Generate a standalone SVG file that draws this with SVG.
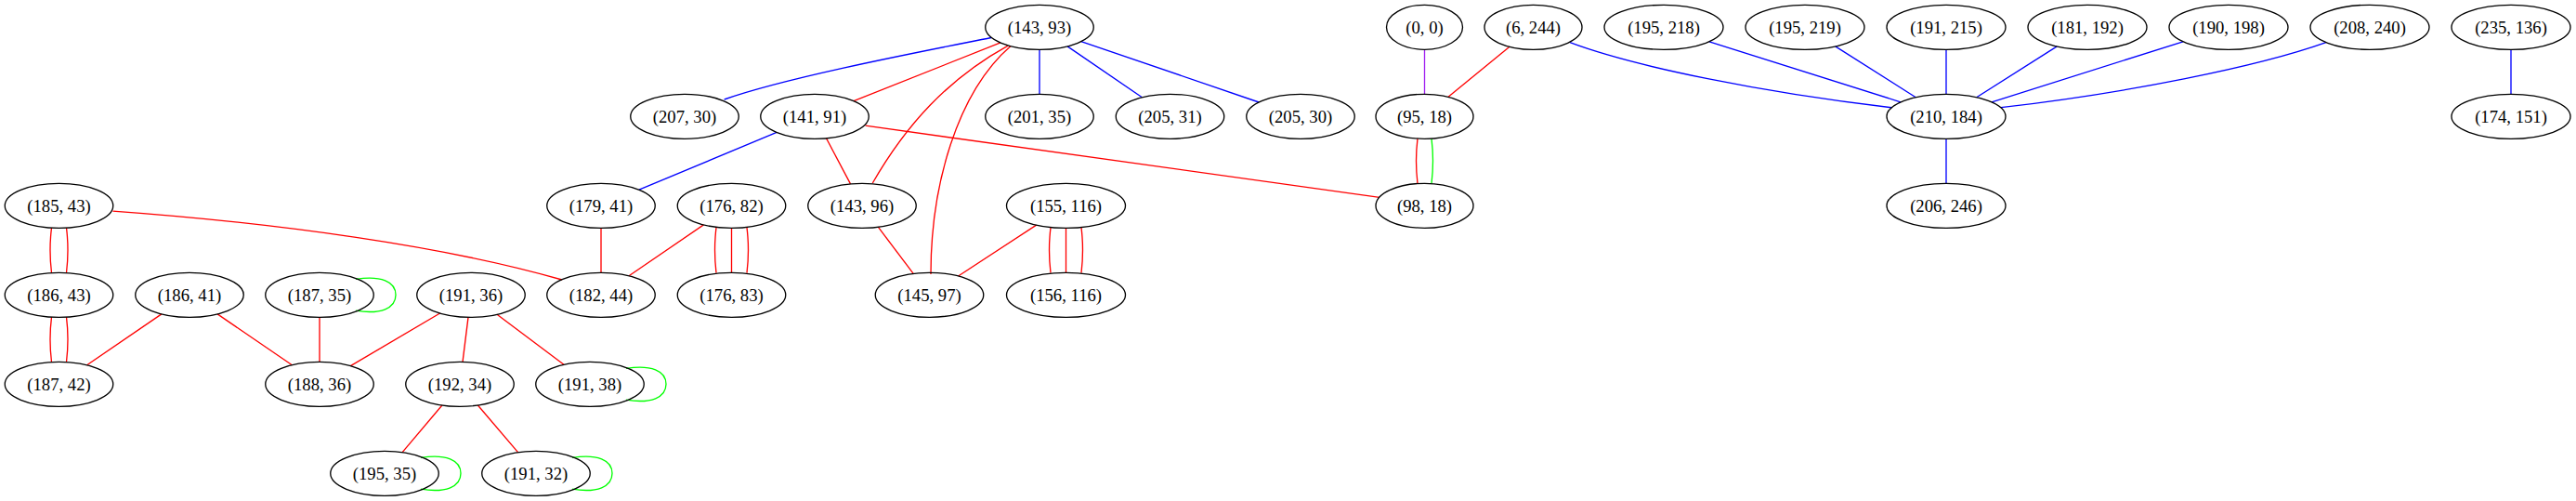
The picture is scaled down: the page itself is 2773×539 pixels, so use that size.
<svg xmlns="http://www.w3.org/2000/svg" width="2773" height="539" viewBox="0 0 2773 539">
<style>
.n ellipse{fill:none;stroke:#000;stroke-width:1.33}
.n text{font-family:"Liberation Serif","Times New Roman",serif;font-size:18.67px;text-anchor:middle;fill:#000}
.e path{fill:none;stroke-width:1.33}
.b{stroke:#0000ff}.r{stroke:#ff0000}.g{stroke:#00ff00}.p{stroke:#a020f0}
</style>
<rect width="2773" height="539" fill="#fff"/>
<g id="edges" class="e">
<path class="b" d="M1067,40.5 C1010,52 850,82 779.6,107"/>
<path class="b" d="M1119,53.3 L1119,101.3"/>
<path class="b" d="M1149.1,49.9 L1229.4,104.7"/>
<path class="b" d="M1163.8,44.6 L1355.2,110"/>
<path class="b" d="M836.1,142.4 L687.9,204.2"/>
<path class="b" d="M1690,45.7 C1760,72 1900,100 2036,115.7"/>
<path class="b" d="M1840,44.8 L2046,109.8"/>
<path class="b" d="M1975.7,49.9 L2062.3,104.7"/>
<path class="b" d="M2095,53.3 L2095,101.3"/>
<path class="b" d="M2214.3,49.9 L2127.7,104.7"/>
<path class="b" d="M2350,44.8 L2144,109.8"/>
<path class="b" d="M2504,45.7 C2430,72 2290,100 2154,115.7"/>
<path class="b" d="M2095,149.3 L2095,197.3"/>
<path class="b" d="M2703,53.3 L2703,101.3"/>
<path class="r" d="M1077,45.9 L919,108.7"/>
<path class="r" d="M1084.7,49.3 C1020,85 975,135 939.3,197"/>
<path class="r" d="M1088,49.5 C1030,100 1002,200 1002,295"/>
<path class="r" d="M889.5,148.7 L915.5,197.9"/>
<path class="r" d="M931.6,135.2 L1485,212.3"/>
<path class="r" d="M1625,50.3 L1559,104.3"/>
<path class="p" d="M1533.5,53.3 L1533.5,101.3"/>
<path class="r" d="M1526,149.1 C1524,165 1524,181 1526,197.5"/>
<path class="g" d="M1541,149.1 C1543,165 1543,181 1541,197.5"/>
<path class="r" d="M121.4,227.1 C300,240 480,265 605,301"/>
<path class="r" d="M55.5,245.1 C53.5,261 53.5,277 55.5,293.5"/>
<path class="r" d="M71.5,245.1 C73.5,261 73.5,277 71.5,293.5"/>
<path class="r" d="M55.5,341.1 C53.5,357 53.5,373 55.5,389.5"/>
<path class="r" d="M71.5,341.1 C73.5,357 73.5,373 71.5,389.5"/>
<path class="r" d="M173.9,337.9 L93.6,392.7"/>
<path class="r" d="M234.1,337.9 L314.4,392.7"/>
<path class="r" d="M344,341.3 L344,389.3"/>
<path class="r" d="M473.6,337 L377.4,393.6"/>
<path class="r" d="M504,341.3 L498,389.3"/>
<path class="r" d="M535,338.3 L607,392.3"/>
<path class="r" d="M475.9,436 L433.1,486.6"/>
<path class="r" d="M514.4,436 L557.6,486.6"/>
<path class="r" d="M647,245.3 L647,293.3"/>
<path class="r" d="M757.4,241.9 L677.1,296.7"/>
<path class="r" d="M771,244.9 C769,261 769,277 771,293.7"/>
<path class="r" d="M787.5,245.3 L787.5,293.3"/>
<path class="r" d="M804,244.9 C806,261 806,277 804,293.7"/>
<path class="r" d="M945.3,244.2 L983.2,294.4"/>
<path class="r" d="M1115.6,242.1 L1031.6,297"/>
<path class="r" d="M1131,244.9 C1129,261 1129,277 1131,293.7"/>
<path class="r" d="M1147.5,245.3 L1147.5,293.3"/>
<path class="r" d="M1164,244.9 C1166,261 1166,277 1164,293.7"/>
<path class="g" d="M383,300.4 C410,296 426,303 426,317.3 C426,331.6 410,338.6 383,334.2"/>
<path class="g" d="M674,396.4 C701,392 717,399 717,413.3 C717,427.6 701,434.6 674,430.2"/>
<path class="g" d="M453,492.4 C480,488 496,495 496,509.3 C496,523.6 480,530.6 453,526.2"/>
<path class="g" d="M616,492.4 C643,488 659,495 659,509.3 C659,523.6 643,530.6 616,526.2"/>
</g>
<g id="n143_93" class="n"><ellipse cx="1119" cy="29.3" rx="58.25" ry="24"/><text x="1119" y="35.5">(143, 93)</text></g>
<g id="n0_0" class="n"><ellipse cx="1533.5" cy="29.3" rx="41" ry="24"/><text x="1533.5" y="35.5">(0, 0)</text></g>
<g id="n6_244" class="n"><ellipse cx="1650.5" cy="29.3" rx="52.5" ry="24"/><text x="1650.5" y="35.5">(6, 244)</text></g>
<g id="n195_218" class="n"><ellipse cx="1791" cy="29.3" rx="64" ry="24"/><text x="1791" y="35.5">(195, 218)</text></g>
<g id="n195_219" class="n"><ellipse cx="1943" cy="29.3" rx="64" ry="24"/><text x="1943" y="35.5">(195, 219)</text></g>
<g id="n191_215" class="n"><ellipse cx="2095" cy="29.3" rx="64" ry="24"/><text x="2095" y="35.5">(191, 215)</text></g>
<g id="n181_192" class="n"><ellipse cx="2247" cy="29.3" rx="64" ry="24"/><text x="2247" y="35.5">(181, 192)</text></g>
<g id="n190_198" class="n"><ellipse cx="2399" cy="29.3" rx="64" ry="24"/><text x="2399" y="35.5">(190, 198)</text></g>
<g id="n208_240" class="n"><ellipse cx="2551" cy="29.3" rx="64" ry="24"/><text x="2551" y="35.5">(208, 240)</text></g>
<g id="n235_136" class="n"><ellipse cx="2703" cy="29.3" rx="64" ry="24"/><text x="2703" y="35.5">(235, 136)</text></g>
<g id="n207_30" class="n"><ellipse cx="737" cy="125.3" rx="58.25" ry="24"/><text x="737" y="131.5">(207, 30)</text></g>
<g id="n141_91" class="n"><ellipse cx="877" cy="125.3" rx="58.25" ry="24"/><text x="877" y="131.5">(141, 91)</text></g>
<g id="n201_35" class="n"><ellipse cx="1119" cy="125.3" rx="58.25" ry="24"/><text x="1119" y="131.5">(201, 35)</text></g>
<g id="n205_31" class="n"><ellipse cx="1259.5" cy="125.3" rx="58.25" ry="24"/><text x="1259.5" y="131.5">(205, 31)</text></g>
<g id="n205_30" class="n"><ellipse cx="1400" cy="125.3" rx="58.25" ry="24"/><text x="1400" y="131.5">(205, 30)</text></g>
<g id="n95_18" class="n"><ellipse cx="1533.5" cy="125.3" rx="52.5" ry="24"/><text x="1533.5" y="131.5">(95, 18)</text></g>
<g id="n210_184" class="n"><ellipse cx="2095" cy="125.3" rx="64" ry="24"/><text x="2095" y="131.5">(210, 184)</text></g>
<g id="n174_151" class="n"><ellipse cx="2703" cy="125.3" rx="64" ry="24"/><text x="2703" y="131.5">(174, 151)</text></g>
<g id="n185_43" class="n"><ellipse cx="63.5" cy="221.3" rx="58.25" ry="24"/><text x="63.5" y="227.5">(185, 43)</text></g>
<g id="n179_41" class="n"><ellipse cx="647" cy="221.3" rx="58.25" ry="24"/><text x="647" y="227.5">(179, 41)</text></g>
<g id="n176_82" class="n"><ellipse cx="787.5" cy="221.3" rx="58.25" ry="24"/><text x="787.5" y="227.5">(176, 82)</text></g>
<g id="n143_96" class="n"><ellipse cx="928" cy="221.3" rx="58.25" ry="24"/><text x="928" y="227.5">(143, 96)</text></g>
<g id="n155_116" class="n"><ellipse cx="1147.5" cy="221.3" rx="64" ry="24"/><text x="1147.5" y="227.5">(155, 116)</text></g>
<g id="n98_18" class="n"><ellipse cx="1533.5" cy="221.3" rx="52.5" ry="24"/><text x="1533.5" y="227.5">(98, 18)</text></g>
<g id="n206_246" class="n"><ellipse cx="2095" cy="221.3" rx="64" ry="24"/><text x="2095" y="227.5">(206, 246)</text></g>
<g id="n186_43" class="n"><ellipse cx="63.5" cy="317.3" rx="58.25" ry="24"/><text x="63.5" y="323.5">(186, 43)</text></g>
<g id="n186_41" class="n"><ellipse cx="204" cy="317.3" rx="58.25" ry="24"/><text x="204" y="323.5">(186, 41)</text></g>
<g id="n187_35" class="n"><ellipse cx="344" cy="317.3" rx="58.25" ry="24"/><text x="344" y="323.5">(187, 35)</text></g>
<g id="n191_36" class="n"><ellipse cx="507" cy="317.3" rx="58.25" ry="24"/><text x="507" y="323.5">(191, 36)</text></g>
<g id="n182_44" class="n"><ellipse cx="647" cy="317.3" rx="58.25" ry="24"/><text x="647" y="323.5">(182, 44)</text></g>
<g id="n176_83" class="n"><ellipse cx="787.5" cy="317.3" rx="58.25" ry="24"/><text x="787.5" y="323.5">(176, 83)</text></g>
<g id="n145_97" class="n"><ellipse cx="1000.5" cy="317.3" rx="58.25" ry="24"/><text x="1000.5" y="323.5">(145, 97)</text></g>
<g id="n156_116" class="n"><ellipse cx="1147.5" cy="317.3" rx="64" ry="24"/><text x="1147.5" y="323.5">(156, 116)</text></g>
<g id="n187_42" class="n"><ellipse cx="63.5" cy="413.3" rx="58.25" ry="24"/><text x="63.5" y="419.5">(187, 42)</text></g>
<g id="n188_36" class="n"><ellipse cx="344" cy="413.3" rx="58.25" ry="24"/><text x="344" y="419.5">(188, 36)</text></g>
<g id="n192_34" class="n"><ellipse cx="495" cy="413.3" rx="58.25" ry="24"/><text x="495" y="419.5">(192, 34)</text></g>
<g id="n191_38" class="n"><ellipse cx="635" cy="413.3" rx="58.25" ry="24"/><text x="635" y="419.5">(191, 38)</text></g>
<g id="n195_35" class="n"><ellipse cx="414" cy="509.3" rx="58.25" ry="24"/><text x="414" y="515.5">(195, 35)</text></g>
<g id="n191_32" class="n"><ellipse cx="577" cy="509.3" rx="58.25" ry="24"/><text x="577" y="515.5">(191, 32)</text></g>
</svg>
